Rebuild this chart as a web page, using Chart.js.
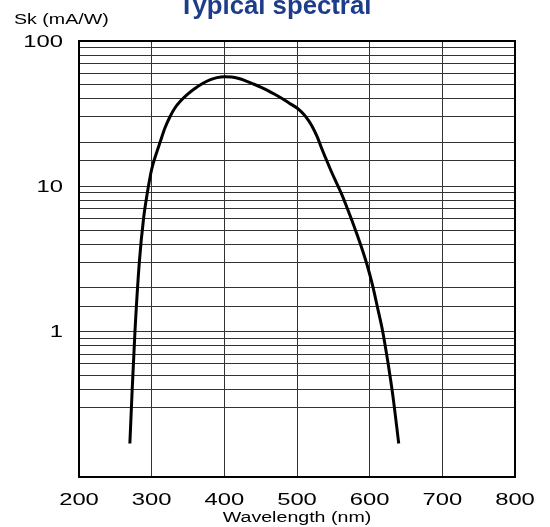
<!DOCTYPE html>
<html>
<head>
<meta charset="utf-8">
<script src="https://cdn.jsdelivr.net/npm/chart.js@4.4.0/dist/chart.umd.min.js"></script>
<style>
html,body{margin:0;padding:0;background:#fff;}
#wrap{width:550px;height:527px;position:relative;}
</style>
</head>
<body>
<div id="wrap"><canvas id="c"></canvas></div>
<script>
// ---- data ----
const wavelengths = [270, 273, 277, 283, 289, 294, 300, 306, 312, 318, 325, 332, 340, 350, 360, 370, 380, 390, 400, 410, 420, 430, 440, 450, 460, 470, 480, 490, 500, 508, 516, 522, 528, 534, 541, 548, 555, 562, 569, 576, 583, 590, 597, 604, 611, 618, 625, 632, 640];
const sensitivity = [0.17, 0.38, 1.0, 3.0, 6.1, 9.0, 13.1, 16.6, 20.4, 25.0, 30.0, 34.6, 38.8, 43.3, 47.3, 51.0, 54.0, 56.0, 56.8, 56.6, 55.2, 53.0, 50.6, 48.2, 45.6, 42.8, 40.0, 37.2, 34.6, 31.8, 28.3, 25.2, 21.8, 18.2, 15.0, 12.4, 10.4, 8.7, 7.1, 5.75, 4.6, 3.65, 2.82, 2.08, 1.45, 1.0, 0.62, 0.36, 0.17];
const xTickLabels = [200, 300, 400, 500, 600, 700, 800];
const yTickLabels = [1, 10, 100];
const hiddenGridValues = [0.2];
const titleText = 'Typical spectral';
const yTitleText = 'Sk (mA/W)';
const xTitleText = 'Wavelength (nm)';

const FONT = '"Liberation Sans", Arial, sans-serif';
const SX = 1.4;

function stretchedText(ctx, text, x, y, align, baseline, font, color, sx) {
  ctx.save();
  ctx.translate(x, y);
  ctx.scale(sx, 1);
  ctx.font = font;
  ctx.fillStyle = color;
  ctx.textAlign = align;
  ctx.textBaseline = baseline;
  ctx.fillText(text, 0, 0);
  ctx.restore();
}

const textPlugin = {
  id: 'textPlugin',
  afterDraw(chart) {
    const ctx = chart.ctx;
    const a = chart.chartArea;
    const xs = chart.scales.x, ys = chart.scales.y;
    // frame
    ctx.save();
    ctx.strokeStyle = '#000';
    ctx.lineWidth = 2;
    ctx.strokeRect(a.left, a.top, a.right - a.left, a.bottom - a.top);
    ctx.restore();
    // title
    stretchedText(ctx, titleText, 275, 13.5, 'center', 'alphabetic', 'bold 25px ' + FONT, '#1d3d8a', 1.03);
    // y title
    stretchedText(ctx, yTitleText, 14, 23.5, 'left', 'alphabetic', '14px ' + FONT, '#000', SX);
    // y tick labels
    yTickLabels.forEach(v => {
      stretchedText(ctx, String(v), 63, ys.getPixelForValue(v) + 1, 'right', 'middle', '17px ' + FONT, '#000', SX);
    });
    // x tick labels
    xTickLabels.forEach(v => {
      stretchedText(ctx, String(v), xs.getPixelForValue(v), 500.5, 'center', 'middle', '17px ' + FONT, '#000', SX);
    });
    // x title
    stretchedText(ctx, xTitleText, (a.left + a.right) / 2, 522, 'center', 'alphabetic', '14px ' + FONT, '#000', SX);
  }
};

new Chart(document.getElementById('c'), {
  type: 'line',
  data: {
    datasets: [{
      data: wavelengths.map((w, i) => ({x: w, y: sensitivity[i]})),
      borderColor: '#000',
      borderWidth: 3,
      pointRadius: 0,
      fill: false,
      cubicInterpolationMode: 'monotone'
    }]
  },
  options: {
    responsive: true,
    maintainAspectRatio: false,
    animation: false,
    layout: {padding: {top: 41, right: 35, left: 0, bottom: 0}},
    plugins: {legend: {display: false}, tooltip: {enabled: false}, title: {display: false}},
    scales: {
      x: {
        type: 'linear',
        min: 200, max: 800,
        ticks: {display: false, stepSize: 100},
        grid: {color: '#333', lineWidth: 1, drawTicks: false},
        border: {display: false},
        afterFit(s) { s.height = 50; }
      },
      y: {
        type: 'logarithmic',
        min: 0.1, max: 100,
        ticks: {display: false, autoSkip: false},
        grid: {
          color: (c) => (c.tick && hiddenGridValues.some(h => Math.abs(c.tick.value - h) < 1e-6)) ? 'rgba(0,0,0,0)' : '#333',
          lineWidth: 1,
          drawTicks: false
        },
        border: {display: false},
        afterFit(s) { s.width = 79; }
      }
    }
  },
  plugins: [textPlugin]
});
</script>
</body>
</html>
